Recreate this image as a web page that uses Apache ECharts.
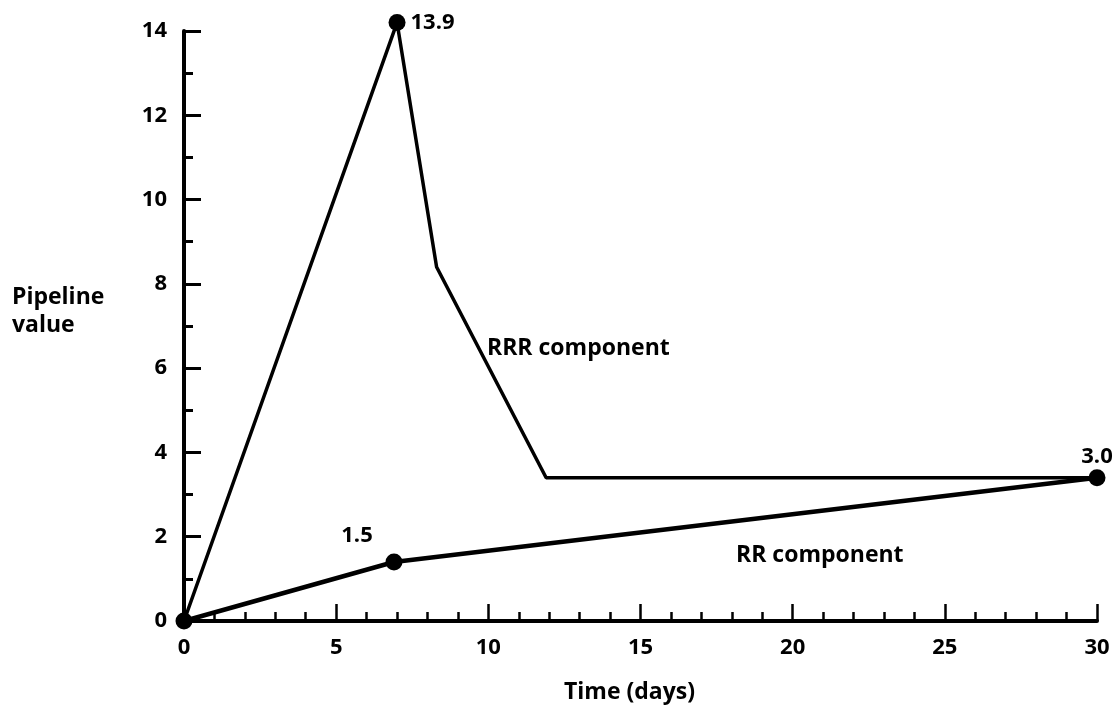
<!DOCTYPE html>
<html>
<head>
<meta charset="utf-8">
<script src="https://cdn.jsdelivr.net/npm/echarts@6/dist/echarts.min.js"></script>
<style>
  html, body { margin: 0; padding: 0; background: #fff; }
  #chart { width: 1119px; height: 711px; }
</style>
</head>
<body>
<div id="chart"></div>
<script>
  // data: [time (days), pipeline value]
  var rrrPoints = [[0, 0], [7, 14.2], [8.3, 8.4], [11.9, 3.4], [30, 3.4]];
  var rrPoints = [[0, 0], [6.9, 1.4], [30, 3.4]];
  // dots and the values printed next to them
  var dotPoints = [[0, 0], [7, 14.2], [6.9, 1.4], [30, 3.4]];
  var dotLabels = ['', '13.9', '1.5', '3.0'];
  var xTicks = [0, 5, 10, 15, 20, 25, 30];
  var yTicks = [0, 2, 4, 6, 8, 10, 12, 14];

  var font = '"Open Sans", "DejaVu Sans", sans-serif';
  var ink = '#000';

  var myChart = echarts.init(document.getElementById('chart'));

  var labelPos = [null, { position: 'right', offset: [0, 0] },
    { position: 'top', offset: [-37, -2] }, { position: 'top', offset: [0, 4] }];

  myChart.setOption({
    animation: false,
    grid: { left: 184, right: 22, top: 31, bottom: 90 },
    xAxis: {
      type: 'value',
      min: xTicks[0],
      max: xTicks[xTicks.length - 1],
      interval: 5,
      name: 'Time (days)',
      nameLocation: 'middle',
      nameGap: 60,
      nameTextStyle: { color: ink, fontFamily: font, fontWeight: 'bold', fontSize: 23, padding: [0, 22, 0, 0] },
      axisLine: { lineStyle: { color: ink, width: 4 } },
      axisTick: { inside: true, length: 17, lineStyle: { color: ink, width: 2.5 } },
      minorTick: { show: true, splitNumber: 5, length: 9, lineStyle: { color: ink, width: 2.5 } },
      axisLabel: { color: ink, fontFamily: font, fontWeight: 'bold', fontSize: 22, margin: 16 },
      splitLine: { show: false }
    },
    yAxis: {
      type: 'value',
      min: yTicks[0],
      max: yTicks[yTicks.length - 1],
      interval: 2,
      axisLine: { show: true, lineStyle: { color: ink, width: 4 } },
      axisTick: { show: true, inside: true, length: 17, lineStyle: { color: ink, width: 3 } },
      minorTick: { show: true, splitNumber: 2, length: 9, lineStyle: { color: ink, width: 3 } },
      axisLabel: { color: ink, fontFamily: font, fontWeight: 'bold', fontSize: 22, margin: 17 },
      splitLine: { show: false }
    },
    graphic: [
      { type: 'text', left: 12, top: 283,
        style: { text: 'Pipeline\nvalue', fill: ink, font: 'bold 23px ' + font, lineHeight: 28 } },
      { type: 'text', left: 487, top: 337,
        style: { text: 'RRR component', fill: ink, font: 'bold 23px ' + font } },
      { type: 'text', left: 736, top: 544,
        style: { text: 'RR component', fill: ink, font: 'bold 23px ' + font } }
    ],
    series: [
      {
        name: 'RRR component',
        type: 'line',
        data: rrrPoints,
        clip: false,
        symbol: 'none',
        lineStyle: { color: ink, width: 3.5 }
      },
      {
        name: 'RR component',
        type: 'line',
        data: rrPoints,
        clip: false,
        symbol: 'none',
        lineStyle: { color: ink, width: 4.5 }
      },
      {
        type: 'scatter',
        clip: false,
        symbolSize: 17,
        itemStyle: { color: ink, opacity: 1 },
        data: dotPoints.map(function (p, i) {
          return {
            value: p,
            label: {
              show: !!dotLabels[i],
              formatter: dotLabels[i],
              color: ink,
              fontFamily: font,
              fontWeight: 'bold',
              fontSize: 22,
              position: labelPos[i] ? labelPos[i].position : 'top',
              offset: labelPos[i] ? labelPos[i].offset : [0, 0]
            }
          };
        })
      }
    ]
  });
</script>
</body>
</html>
